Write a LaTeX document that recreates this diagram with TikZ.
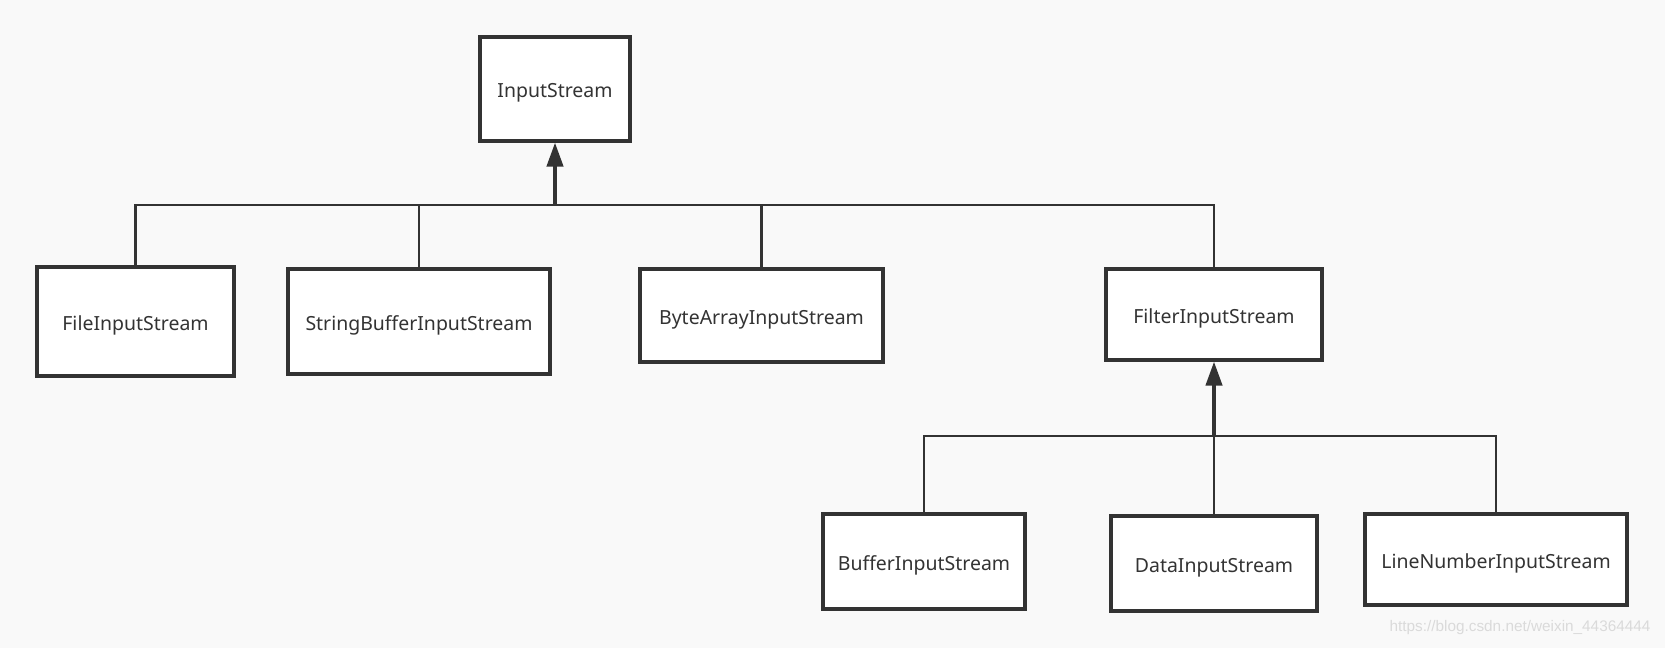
\documentclass[tikz,border=0pt]{standalone}
\usepackage{fontspec}
\setmainfont{Noto Sans}
\newfontfamily\wmfont{Liberation Sans}
\usetikzlibrary{arrows.meta}
\definecolor{bg}{HTML}{F9F9F9}
\definecolor{ink}{HTML}{333333}
\definecolor{wm}{HTML}{DADADA}
\tikzset{
  cls/.style={draw=ink, line width=2.3pt, fill=white, inner sep=0pt,
    font=\fontsize{14.6pt}{17pt}\selectfont, text=ink,
    text height=13pt, text depth=0pt},
  conn/.style={draw=ink, line width=1.9pt},
  inherit/.style={draw=ink, line width=3pt, -{Triangle[length=18pt,width=12pt]}},
}
\begin{document}
\begin{tikzpicture}[x=0.75pt,y=-0.75pt]
\fill[bg] (0,0) rectangle (1665,648);
\useasboundingbox (0,0) rectangle (1665,648);
\node[cls, minimum width=150*0.75pt, minimum height=104*0.75pt] (input) at (555,89) {InputStream};
\node[cls, minimum width=197*0.75pt, minimum height=109*0.75pt] (file) at (135.5,321.5) {FileInputStream};
\node[cls, minimum width=262*0.75pt, minimum height=105*0.75pt] (sbuf) at (419,321.5) {StringBufferInputStream};
\node[cls, minimum width=243*0.75pt, minimum height=93*0.75pt] (bytea) at (761.5,315.5) {ByteArrayInputStream};
\node[cls, minimum width=216*0.75pt, minimum height=91*0.75pt] (filter) at (1214,314.5) {FilterInputStream};
\node[cls, minimum width=202*0.75pt, minimum height=95*0.75pt] (buffer) at (924,561.5) {BufferInputStream};
\node[cls, minimum width=206*0.75pt, minimum height=95*0.75pt] (data) at (1214,563.5) {DataInputStream};
\node[cls, minimum width=262*0.75pt, minimum height=91*0.75pt] (linenum) at (1496,559.5) {LineNumberInputStream};
\coordinate (bus) at (555,205);
\coordinate (bus2) at (1214,436);
\draw[conn] (file.north) |- (bus);
\draw[conn] (sbuf.north) |- (bus);
\draw[conn] (bytea.north) |- (bus);
\draw[conn] (filter.north) |- (bus);
\draw[inherit] (bus) -- (input.south);
\draw[conn] (buffer.north) |- (bus2);
\draw[conn] (linenum.north) |- (bus2);
\draw[conn] (data.north) -- (bus2);
\draw[inherit] (bus2) -- (filter.south);
\node[font=\wmfont\fontsize{11.5pt}{13pt}\selectfont, text=wm, inner sep=0pt] (wmark) at (1520,628) {https://blog.csdn.net/weixin\_44364444};
\end{tikzpicture}
\end{document}
